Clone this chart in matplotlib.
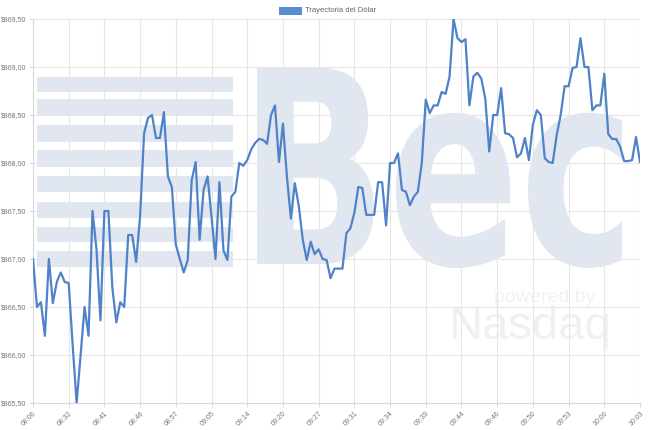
import matplotlib
matplotlib.use('Agg')
import matplotlib.pyplot as plt
from matplotlib.patches import Rectangle, PathPatch
from matplotlib.textpath import TextPath
from matplotlib.font_manager import FontProperties
from matplotlib.transforms import Affine2D

# Datos del gráfico
serie_label = 'Trayectoria del Dólar'
tick_labels = ['08:06', '08:32', '08:41', '08:46', '08:57', '09:05', '09:14',
               '09:20', '09:27', '09:31', '09:34', '09:39', '09:44', '09:46',
               '09:50', '09:53', '10:00', '10:03']
tick_step = 9
y_ticks = [865.5, 866.0, 866.5, 867.0, 867.5, 868.0, 868.5, 869.0, 869.5]

precio = [
    867.00, 866.50, 866.55, 866.20, 867.00, 866.54, 866.76, 866.86, 866.76, 866.75,
    866.10, 865.50, 866.00, 866.50, 866.20, 867.50, 867.10, 866.36, 867.50, 867.50,
    866.70, 866.34, 866.55, 866.50, 867.25, 867.25, 866.97, 867.45, 868.31, 868.47,
    868.50, 868.26, 868.26, 868.53, 867.86, 867.75, 867.15, 867.00, 866.86, 866.99,
    867.82, 868.01, 867.20, 867.72, 867.86, 867.44, 867.00, 867.80, 867.09, 866.99,
    867.65, 867.70, 868.00, 867.97, 868.03, 868.14, 868.21, 868.25, 868.24, 868.20,
    868.50, 868.60, 868.01, 868.41, 867.86, 867.42, 867.79, 867.55, 867.20, 866.99,
    867.18, 867.05, 867.10, 867.00, 866.99, 866.80, 866.90, 866.90, 866.90, 867.27,
    867.32, 867.48, 867.75, 867.74, 867.46, 867.46, 867.46, 867.80, 867.80, 867.35,
    868.00, 868.00, 868.10, 867.72, 867.70, 867.56, 867.65, 867.70, 868.00, 868.66,
    868.52, 868.60, 868.60, 868.74, 868.72, 868.90, 869.50, 869.30, 869.26, 869.29,
    868.60, 868.90, 868.94, 868.88, 868.67, 868.12, 868.50, 868.50, 868.78, 868.31,
    868.30, 868.26, 868.06, 868.10, 868.26, 868.03, 868.40, 868.55, 868.50, 868.05,
    868.01, 868.00, 868.29, 868.50, 868.80, 868.80, 868.99, 869.00, 869.30, 869.00,
    869.00, 868.55, 868.60, 868.60, 868.93, 868.30, 868.25, 868.25, 868.17, 868.02,
    868.02, 868.03, 868.27, 868.01,
]

plt.rcParams['font.family'] = ['Liberation Sans', 'DejaVu Sans']

W, H = 650, 430
fig = plt.figure(figsize=(W / 100, H / 100), dpi=100)
ax = fig.add_axes([33 / W, 1 - 403 / H, 607 / W, 384 / H])

# marca de agua (coordenadas en pixeles de la figura)
px = Affine2D().scale(1 / W, 1 / H) + fig.transFigure
wm = '#e1e7f0'
for top, bot in [(77, 92), (99, 115), (125, 142), (150, 167),
                 (176, 192), (202, 218), (227, 242), (251, 267)]:
    ax.add_patch(Rectangle((37, H - bot), 196, bot - top, transform=px,
                           color=wm, lw=0, zorder=1, clip_on=False))
tp = TextPath((0, 0), 'Bec', prop=FontProperties(family='DejaVu Sans', weight='bold'))
ext = tp.get_extents()
x0, x1, y0, y1 = 257, 622, H - 268, H - 67
fit = Affine2D().translate(-ext.x0, -ext.y0).scale(
    (x1 - x0) / ext.width, (y1 - y0) / ext.height).translate(x0, y0)
ax.add_patch(PathPatch(fit.transform_path(tp), transform=px, color=wm,
                       lw=0, zorder=1, clip_on=False))
ax.text(545, H - 297, 'powered by', transform=px, ha='center', va='center',
        fontsize=14, color='#f0f2f5', zorder=1)
ax.text(530, H - 327, 'Nasdaq', transform=px, ha='center', va='center',
        fontsize=34, color='#eef0f3', zorder=1)

x = list(range(len(precio)))
ax.plot(x, precio, color='#4f82c8', lw=1.6, zorder=3)

ax.set_xlim(0, len(precio) - 1)
ax.set_ylim(y_ticks[0], y_ticks[-1])
ax.set_yticks(y_ticks)
ax.set_yticklabels(['$' + f'{v:.2f}'.replace('.', ',') for v in y_ticks])
ax.set_xticks(range(0, len(precio), tick_step))
ax.set_xticklabels(tick_labels, rotation=45, ha='right', rotation_mode='anchor')

ax.patch.set_alpha(0)
ax.grid(True, color='#e6e6e6', lw=0.8)
for s in ['top', 'right']:
    ax.spines[s].set_visible(False)
for s in ['left', 'bottom']:
    ax.spines[s].set_color('#d9d9d9')
ax.tick_params(axis='both', colors='#d9d9d9', labelcolor='#777777',
               labelsize=5, length=3, pad=2)

# leyenda
fig.patches.append(Rectangle((279 / W, 1 - 15 / H), 23 / W, 8 / H,
                             transform=fig.transFigure, color='#5b8bd0', lw=0))
fig.text(305 / W, 1 - 11 / H, serie_label, fontsize=5.5, color='#666666',
         ha='left', va='center')

fig.savefig('out.png', dpi=100)
